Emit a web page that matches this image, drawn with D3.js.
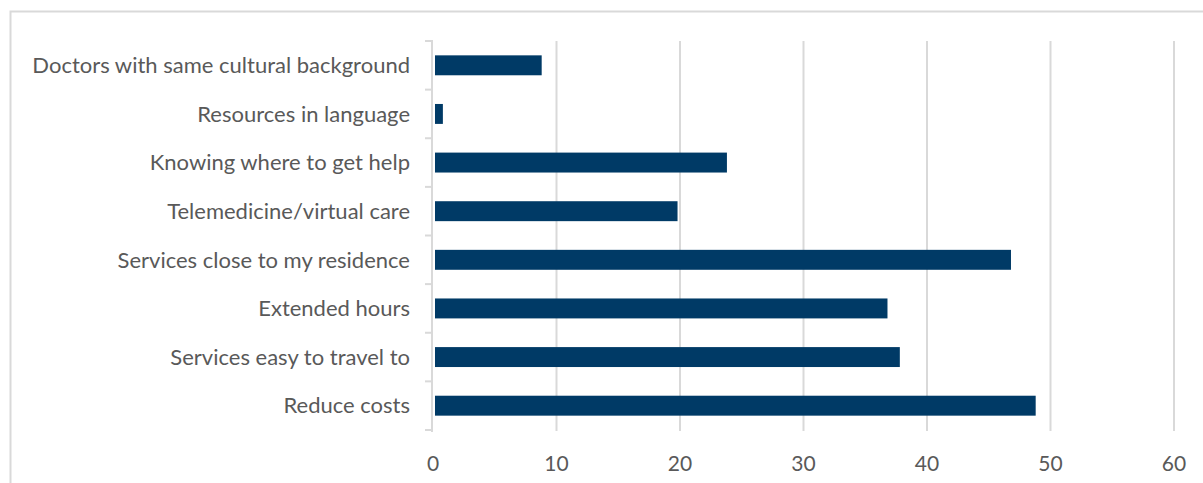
<!DOCTYPE html>
<html>
<head>
<meta charset="utf-8">
<script src="https://cdn.jsdelivr.net/npm/d3@7"></script>
<style>
html,body{margin:0;padding:0;background:#fff;}
svg{display:block;}
</style>
</head>
<body>
<svg id="chart" width="1203" height="483"></svg>
<script>
const categories = [
  "Doctors with same cultural background",
  "Resources in language",
  "Knowing where to get help",
  "Telemedicine/virtual care",
  "Services close to my residence",
  "Extended hours",
  "Services easy to travel to",
  "Reduce costs"
];
const values = [8.8, 0.8, 23.8, 19.8, 46.8, 36.8, 37.8, 48.8];
const xTicks = [0, 10, 20, 30, 40, 50, 60];

const svg = d3.select("#chart");
const W = 1203, H = 483;
const font = "Lato, 'Open Sans', sans-serif";
const grid = "#d9d9d9";
const textCol = "#595959";

// outer frame
svg.append("path")
  .attr("d", `M10.5,${H+2} L10.5,11.5 L${W+2},11.5`)
  .attr("fill", "none").attr("stroke", grid).attr("stroke-width", 2);

const x = d3.scaleLinear().domain([0, 60]).range([433, 1174]);
const y = d3.scaleBand().domain(categories).range([41, 430]).paddingInner(0.59).paddingOuter(0.295);
const band = d3.scaleBand().domain(categories).range([41, 430]);

// gridlines
svg.append("g").selectAll("line").data(xTicks.slice(1)).join("line")
  .attr("x1", d => x(d)).attr("x2", d => x(d))
  .attr("y1", 41).attr("y2", 431)
  .attr("stroke", grid).attr("stroke-width", 2);

// bars
svg.append("g").selectAll("rect").data(categories).join("rect")
  .attr("x", x(0) + 2)
  .attr("y", d => y(d))
  .attr("width", (d, i) => x(values[i]) - x(0) - 2)
  .attr("height", y.bandwidth())
  .attr("fill", "#003a66");

// y axis line and ticks
const axisG = svg.append("g");
axisG.append("line").attr("x1", 432).attr("x2", 432).attr("y1", 40).attr("y2", 432)
  .attr("stroke", grid).attr("stroke-width", 2);
const bounds = categories.map(c => band(c)).concat([band.range()[1]]);
axisG.selectAll("line.tk").data(bounds).join("line").attr("class", "tk")
  .attr("x1", 425).attr("x2", 432)
  .attr("y1", d => d).attr("y2", d => d)
  .attr("stroke", grid).attr("stroke-width", 2);

// category labels
svg.append("g").selectAll("text").data(categories).join("text")
  .attr("x", 410)
  .attr("y", d => band(d) + band.bandwidth() / 2)
  .attr("dy", "0.35em")
  .attr("text-anchor", "end")
  .attr("font-family", font).attr("font-size", 22)
  .attr("fill", textCol)
  .text(d => d);

// x tick labels
svg.append("g").selectAll("text").data(xTicks).join("text")
  .attr("x", d => x(d))
  .attr("y", 471)
  .attr("text-anchor", "middle")
  .attr("font-family", font).attr("font-size", 21)
  .attr("fill", textCol)
  .text(d => d);
</script>
</body>
</html>
